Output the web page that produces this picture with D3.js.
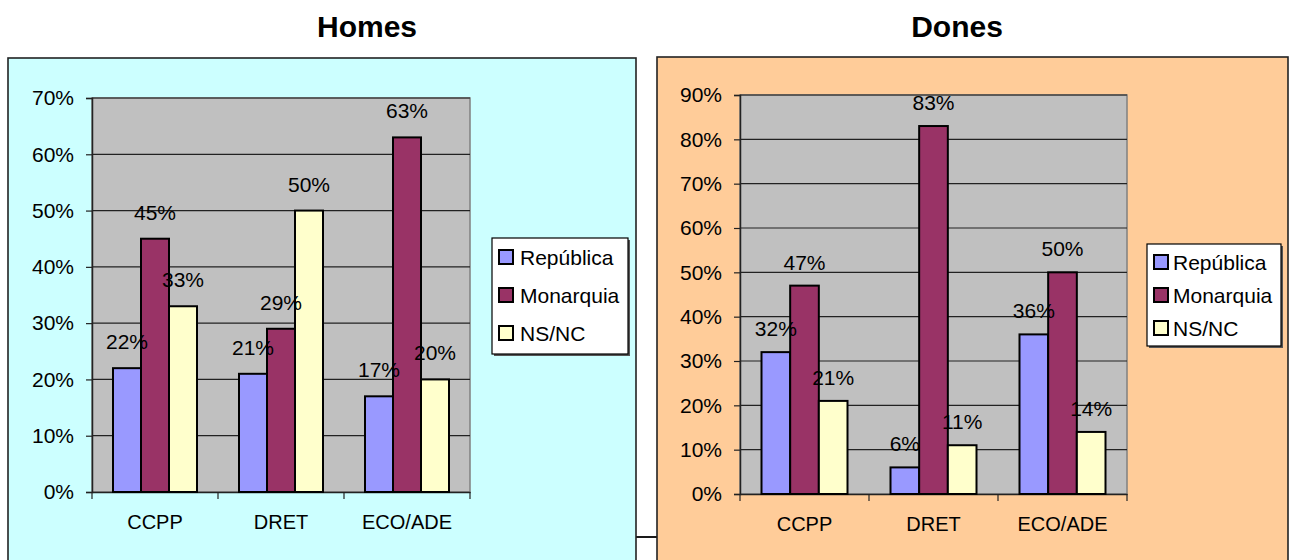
<!DOCTYPE html>
<html>
<head>
<meta charset="utf-8">
<script src="https://cdn.jsdelivr.net/npm/d3@7"></script>
<style>
  html, body { margin: 0; padding: 0; background: #fff; }
  svg { display: block; font-family: "Liberation Sans", Arial, sans-serif; }
</style>
</head>
<body>
<svg id="chart" width="1293" height="560"></svg>
<script>
// ---- data ----
const categories = ["CCPP", "DRET", "ECO/ADE"];
const seriesNames = ["República", "Monarquia", "NS/NC"];
const seriesColors = ["#9999FF", "#993366", "#FFFFCC"];

const homesRepublica = [0.22, 0.21, 0.17];
const homesMonarquia = [0.45, 0.29, 0.63];
const homesNsnc      = [0.33, 0.50, 0.20];

const donesRepublica = [0.32, 0.06, 0.36];
const donesMonarquia = [0.47, 0.83, 0.50];
const donesNsnc      = [0.21, 0.11, 0.14];

const homesTicks = [0, 0.1, 0.2, 0.3, 0.4, 0.5, 0.6, 0.7];
const donesTicks = [0, 0.1, 0.2, 0.3, 0.4, 0.5, 0.6, 0.7, 0.8, 0.9];

// ---- layout ----
const panels = [
  {
    title: "Homes", titleX: 367, titleY: 37,
    bg: "#CCFFFF", box: {x: 8, y: 58, w: 628, h: 540},
    plot: {x0: 92, x1: 470, y0: 98, y1: 492},
    ticks: homesTicks,
    values: [homesRepublica, homesMonarquia, homesNsnc],
    labelOffset: 19,
    legend: {x: 492, y: 238, w: 136, h: 116, rows: [257, 295, 333], swX: 499, txX: 520}
  },
  {
    title: "Dones", titleX: 957, titleY: 37,
    bg: "#FFCC99", box: {x: 657, y: 57, w: 631, h: 540},
    plot: {x0: 740, x1: 1127, y0: 95, y1: 494},
    ticks: donesTicks,
    values: [donesRepublica, donesMonarquia, donesNsnc],
    labelOffset: 16,
    legend: {x: 1147, y: 244, w: 134, h: 102, rows: [262, 295, 328], swX: 1154, txX: 1173}
  }
];

const svg = d3.select("#chart");
svg.append("rect").attr("width", 1293).attr("height", 560).attr("fill", "#fff");

// small connector artifact between panels
svg.append("line").attr("x1", 636).attr("x2", 657).attr("y1", 537).attr("y2", 537)
  .attr("stroke", "#000").attr("stroke-width", 1.8);

const pct = d3.format(".0%");

panels.forEach(p => {
  const g = svg.append("g");
  // panel background
  g.append("rect")
    .attr("x", p.box.x).attr("y", p.box.y).attr("width", p.box.w).attr("height", p.box.h)
    .attr("fill", p.bg).attr("stroke", "#222").attr("stroke-width", 1.6);

  // title
  g.append("text").attr("x", p.titleX).attr("y", p.titleY)
    .attr("text-anchor", "middle").attr("font-size", 30).attr("font-weight", "bold")
    .attr("fill", "#000").text(p.title);

  const yMax = p.ticks[p.ticks.length - 1];
  const y = d3.scaleLinear().domain([0, yMax]).range([p.plot.y1, p.plot.y0]);
  const x = d3.scaleBand().domain(categories).range([p.plot.x0, p.plot.x1]).paddingInner(0).paddingOuter(0);
  const bw = x.bandwidth();
  const xs = d3.scaleBand().domain(seriesNames).range([bw / 6, bw * 5 / 6]).padding(0);

  // plot area
  g.append("rect")
    .attr("x", p.plot.x0).attr("y", p.plot.y0)
    .attr("width", p.plot.x1 - p.plot.x0).attr("height", p.plot.y1 - p.plot.y0)
    .attr("fill", "#C0C0C0").attr("stroke", "#808080").attr("stroke-width", 1.5);

  // gridlines
  g.append("g").selectAll("line").data(p.ticks.filter(t => t > 0)).join("line")
    .attr("x1", p.plot.x0).attr("x2", p.plot.x1)
    .attr("y1", d => y(d)).attr("y2", d => y(d))
    .attr("stroke", "#222").attr("stroke-width", 1.2);

  // y axis
  const yAxis = g.append("g").attr("transform", `translate(${p.plot.x0},0)`)
    .call(d3.axisLeft(y).tickValues(p.ticks).tickFormat(pct).tickSize(6).tickPadding(12));
  yAxis.select(".domain").attr("stroke", "#222").attr("stroke-width", 1.5);
  yAxis.selectAll(".tick line").attr("stroke", "#222").attr("stroke-width", 1.2);
  yAxis.selectAll("text").attr("font-size", 21).attr("fill", "#000")
    .attr("font-family", "Liberation Sans, Arial, sans-serif");

  // x axis (labels), boundaries ticks
  const xAxis = g.append("g").attr("transform", `translate(0,${p.plot.y1})`)
    .call(d3.axisBottom(x).tickSize(0).tickPadding(23));
  xAxis.select(".domain").attr("stroke", "#222").attr("stroke-width", 1.5);
  xAxis.selectAll("text").attr("font-size", 20).attr("fill", "#000")
    .attr("font-family", "Liberation Sans, Arial, sans-serif");
  const bounds = categories.map(c => x(c)).concat([x(categories[categories.length - 1]) + bw]);
  g.append("g").selectAll("line").data(bounds).join("line")
    .attr("x1", d => d).attr("x2", d => d)
    .attr("y1", p.plot.y1).attr("y2", p.plot.y1 + 7)
    .attr("stroke", "#222").attr("stroke-width", 1.2);

  // bars
  const barData = [];
  seriesNames.forEach((s, si) => {
    categories.forEach((c, ci) => {
      barData.push({s, si, c, v: p.values[si][ci]});
    });
  });
  g.append("g").selectAll("rect").data(barData).join("rect")
    .attr("x", d => x(d.c) + xs(d.s))
    .attr("y", d => y(d.v))
    .attr("width", xs.bandwidth())
    .attr("height", d => y(0) - y(d.v))
    .attr("fill", d => seriesColors[d.si])
    .attr("stroke", "#000").attr("stroke-width", 2);

  // data labels
  g.append("g").selectAll("text").data(barData).join("text")
    .attr("x", d => x(d.c) + xs(d.s) + xs.bandwidth() / 2)
    .attr("y", d => y(d.v) - p.labelOffset)
    .attr("text-anchor", "middle").attr("font-size", 21).attr("fill", "#000")
    .text(d => pct(d.v));

  // legend
  const L = p.legend;
  g.append("rect").attr("x", L.x + 2).attr("y", L.y + 2).attr("width", L.w).attr("height", L.h)
    .attr("fill", "#555");
  g.append("rect").attr("x", L.x).attr("y", L.y).attr("width", L.w).attr("height", L.h)
    .attr("fill", "#fff").attr("stroke", "#000").attr("stroke-width", 1.2);
  const li = g.append("g").selectAll("g").data(seriesNames).join("g");
  li.append("rect")
    .attr("x", L.swX).attr("y", (d, i) => L.rows[i] - 7)
    .attr("width", 14).attr("height", 14)
    .attr("fill", (d, i) => seriesColors[i]).attr("stroke", "#000").attr("stroke-width", 2);
  li.append("text")
    .attr("x", L.txX).attr("y", (d, i) => L.rows[i]).attr("dy", "0.36em")
    .attr("font-size", 21).attr("fill", "#000").text(d => d);
});
</script>
</body>
</html>
